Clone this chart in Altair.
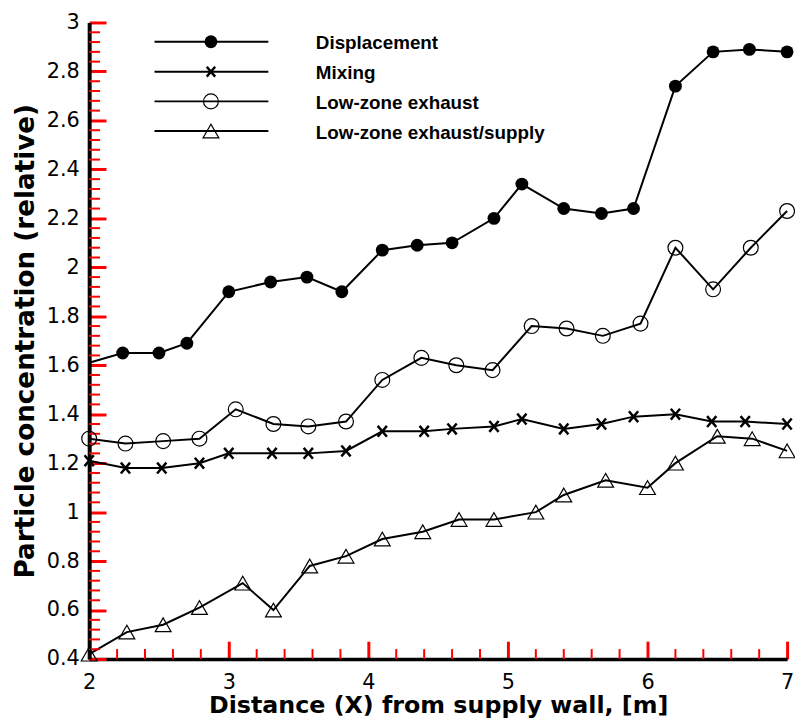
import altair as alt
import pandas as pd

# ---- data ----
series_names = ["Displacement", "Mixing", "Low-zone exhaust", "Low-zone exhaust/supply"]

disp_x = [2.0, 2.24, 2.5, 2.7, 3.0, 3.3, 3.56, 3.81, 4.1, 4.35, 4.6, 4.9, 5.1, 5.4, 5.67, 5.9, 6.2, 6.47, 6.73, 7.0]
disp_y = [1.61, 1.65, 1.65, 1.69, 1.90, 1.94, 1.96, 1.90, 2.07, 2.09, 2.10, 2.20, 2.34, 2.24, 2.22, 2.24, 2.74, 2.88, 2.89, 2.88]

mix_x = [2.0, 2.26, 2.52, 2.79, 3.0, 3.31, 3.57, 3.84, 4.1, 4.4, 4.6, 4.9, 5.1, 5.4, 5.67, 5.9, 6.2, 6.46, 6.7, 7.0]
mix_y = [1.21, 1.18, 1.18, 1.20, 1.24, 1.24, 1.24, 1.25, 1.33, 1.33, 1.34, 1.35, 1.38, 1.34, 1.36, 1.39, 1.40, 1.37, 1.37, 1.36]

lze_x = [2.0, 2.26, 2.53, 2.79, 3.05, 3.32, 3.57, 3.84, 4.1, 4.38, 4.63, 4.89, 5.17, 5.42, 5.68, 5.95, 6.2, 6.47, 6.74, 7.0]
lze_y = [1.30, 1.28, 1.29, 1.30, 1.42, 1.36, 1.35, 1.37, 1.54, 1.63, 1.60, 1.58, 1.76, 1.75, 1.72, 1.77, 2.08, 1.91, 2.08, 2.23]

lzs_x = [2.0, 2.27, 2.53, 2.79, 3.1, 3.32, 3.58, 3.84, 4.1, 4.39, 4.65, 4.9, 5.2, 5.4, 5.7, 6.0, 6.2, 6.5, 6.75, 7.0]
lzs_y = [0.42, 0.51, 0.54, 0.61, 0.71, 0.60, 0.78, 0.82, 0.89, 0.92, 0.97, 0.97, 1.00, 1.07, 1.13, 1.10, 1.20, 1.31, 1.30, 1.25]

X_MIN, X_MAX = 2.0, 7.0
Y_MIN, Y_MAX = 0.4, 3.0
x_major = [2, 3, 4, 5, 6, 7]
y_major = [0.4, 0.6, 0.8, 1.0, 1.2, 1.4, 1.6, 1.8, 2.0, 2.2, 2.4, 2.6, 2.8, 3.0]
x_minor = [round(2.0 + 0.2 * i, 2) for i in range(26) if i % 5 != 0]
y_minor = [round(0.4 + 0.04 * i, 2) for i in range(66) if i % 5 != 0]

W, H = 705, 643
TITLE_FONT = "DejaVu Sans"
TICK_FONT = "DejaVu Sans"
LEG_FONT = "Liberation Sans"
TICK_COLOR = "red"   # diagnostic colour

xscale = alt.Scale(domain=[X_MIN, X_MAX], nice=False, zero=False)
yscale = alt.Scale(domain=[Y_MIN, Y_MAX], nice=False, zero=False)

X_SHAPE = "M-0.85,-1L0.85,1M0.85,-1L-0.85,1"
VTICK = "M0,0L0,-1"
HTICK = "M0,0L1,0"


def frame(xs, ys, name):
    return pd.DataFrame({"x": xs, "y": ys, "series": name})


df_disp = frame(disp_x, disp_y, series_names[0])
df_disp_pts = df_disp[df_disp["x"] > 2].reset_index(drop=True)
df_mix = frame(mix_x, mix_y, series_names[1])
df_lze = frame(lze_x, lze_y, series_names[2])
df_lzs = frame(lzs_x, lzs_y, series_names[3])

xenc = alt.X("x:Q", scale=xscale,
             axis=alt.Axis(values=x_major, ticks=True, tickSize=alt.ExprRef(expr="-18"),
                           tickWidth=3, tickColor=TICK_COLOR, grid=False, domainColor="black",
                           domainWidth=3.5, labelFont=TICK_FONT, labelFontSize=21,
                           labelColor="black", labelPadding=31, labelFlush=False,
                           title="Distance (X) from supply wall, [m]",
                           titleFont=TITLE_FONT, titleFontSize=24, titleFontWeight="bold",
                           titleColor="black", titleBaseline="alphabetic",
                           titleX=W / 2, titleY=54, titleAnchor="middle",
                           format="d"))
yenc = alt.Y("y:Q", scale=yscale,
             axis=alt.Axis(values=y_major, ticks=True, tickSize=alt.ExprRef(expr="-17"),
                           tickWidth=3, tickColor=TICK_COLOR, grid=False, domainColor="black",
                           domainWidth=4, labelFont=TICK_FONT, labelFontSize=21,
                           labelColor="black", labelPadding=27, labelFlush=False,
                           labelExpr="format(datum.value, '~g')",
                           title="Particle concentration (relative)",
                           titleFont=TITLE_FONT, titleFontSize=26.5, titleFontWeight="bold",
                           titleColor="black", titleBaseline="alphabetic",
                           titleAngle=270, titleX=-56, titleY=H / 2, titleAnchor="middle"))

xq = alt.X("x:Q", scale=xscale)
yq = alt.Y("y:Q", scale=yscale)

tx_minor = pd.DataFrame({"x": x_minor, "y": Y_MIN})
ty_minor = pd.DataFrame({"x": X_MIN, "y": y_minor})

layers = [
    alt.Chart(df_disp).mark_line(color="black", strokeWidth=2).encode(x=xenc, y=yenc),
    alt.Chart(df_mix).mark_line(color="black", strokeWidth=2).encode(x=xq, y=yq),
    alt.Chart(df_lze).mark_line(color="black", strokeWidth=2).encode(x=xq, y=yq),
    alt.Chart(df_lzs).mark_line(color="black", strokeWidth=2).encode(x=xq, y=yq),
    alt.Chart(tx_minor).mark_point(shape=VTICK, filled=False, color=TICK_COLOR, size=400,
                                   strokeWidth=2, opacity=1).encode(x=xq, y=yq),
    alt.Chart(ty_minor).mark_point(shape=HTICK, filled=False, color=TICK_COLOR, size=484,
                                   strokeWidth=2, opacity=1).encode(x=xq, y=yq),
    alt.Chart(df_disp_pts).mark_point(
        shape="circle", filled=True, color="black", size=169, opacity=1).encode(x=xq, y=yq),
    alt.Chart(df_mix).mark_point(
        shape=X_SHAPE, filled=False, color="black", size=121, strokeWidth=2.5, opacity=1).encode(x=xq, y=yq),
    alt.Chart(df_lze).mark_point(
        shape="circle", filled=False, color="black", size=225, strokeWidth=1.2, opacity=1).encode(x=xq, y=yq),
    alt.Chart(df_lzs).mark_point(
        shape="triangle-up", filled=False, color="black", size=256, strokeWidth=1.2, opacity=1).encode(x=xq, y=yq),
]

leg_rows = [19.5, 49.7, 79.7, 109.7]
leg_marks = [
    dict(shape="circle", filled=True, size=169, strokeWidth=1),
    dict(shape=X_SHAPE, filled=False, size=100, strokeWidth=2.5),
    dict(shape="circle", filled=False, size=225, strokeWidth=1.2),
    dict(shape="triangle-up", filled=False, size=256, strokeWidth=1.2),
]
for name, ry, mk in zip(series_names, leg_rows, leg_marks):
    ldf = pd.DataFrame({"label": [name]})
    base = alt.Chart(ldf)
    layers.append(base.mark_rule(color="black", strokeWidth=2).encode(
        x=alt.value(66), x2=alt.value(181), y=alt.value(ry)))
    layers.append(base.mark_point(color="black", opacity=1, **mk).encode(
        x=alt.value(123), y=alt.value(ry)))
    layers.append(base.mark_text(align="left", baseline="alphabetic", font=LEG_FONT,
                                 fontSize=19, fontWeight="bold", color="black").encode(
        x=alt.value(229), y=alt.value(ry + 7.5), text="label:N"))

chart = alt.layer(*layers).properties(
    width=W, height=H,
    autosize=alt.AutoSizeParams(type="none"),
    padding={"left": 82, "top": 11, "right": 8, "bottom": 60},
    background="white",
).configure_view(stroke=None)

chart.save("out.html", embed_options={"renderer": "svg", "actions": False})
